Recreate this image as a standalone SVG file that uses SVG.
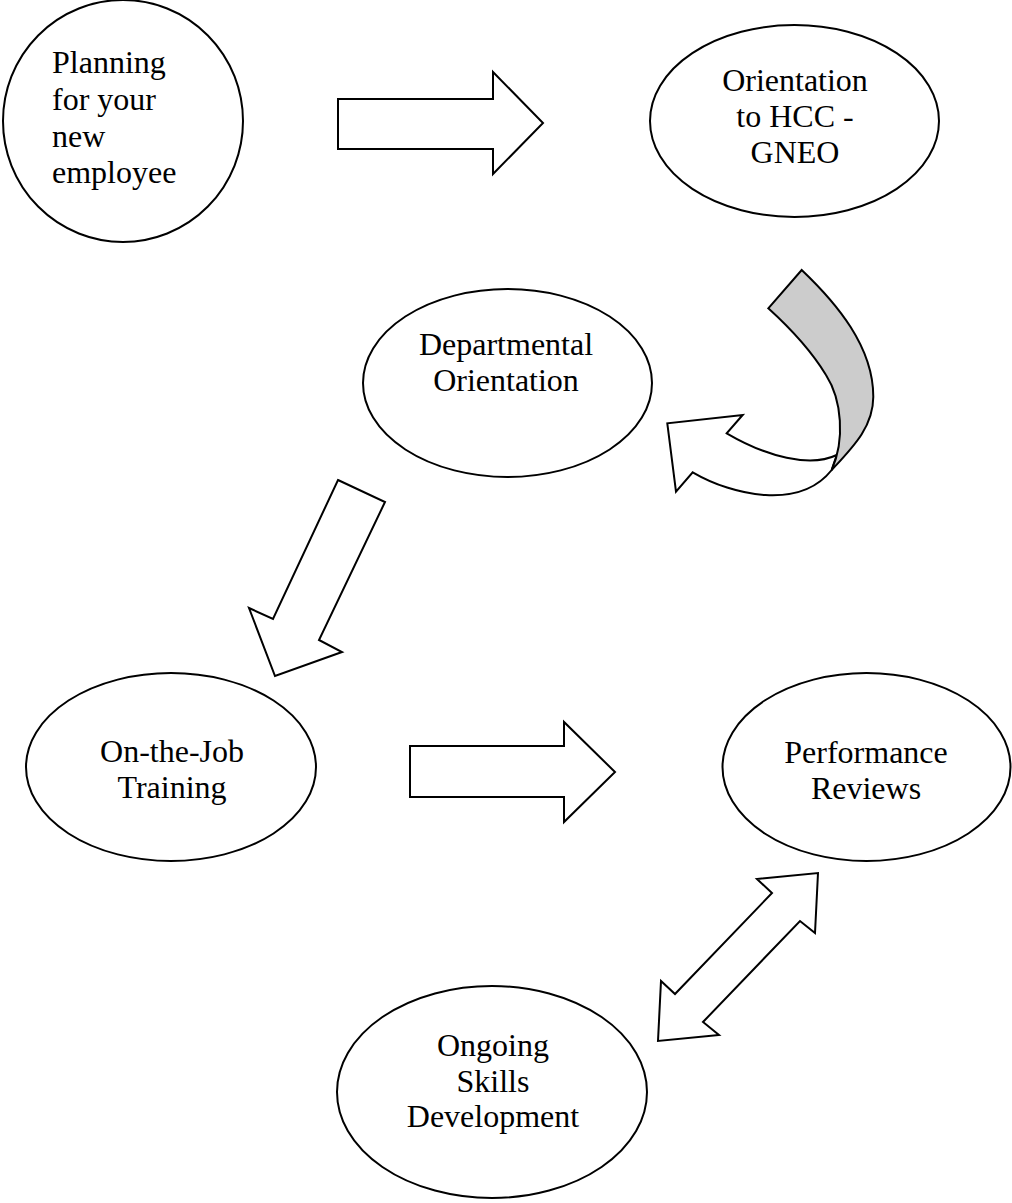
<svg xmlns="http://www.w3.org/2000/svg" width="1012" height="1203" viewBox="0 0 1012 1203">
<style>
.n{fill:#fff;stroke:#000;stroke-width:2}
.a{fill:#fff;stroke:#000;stroke-width:2;stroke-linejoin:miter}
.g{fill:#cccccc;stroke:#000;stroke-width:2}
text{font-family:"Liberation Serif","Times New Roman",serif;font-size:32px;fill:#000}
.c{text-anchor:middle}
</style>
<rect width="1012" height="1203" fill="#fff"/>
<g id="connectors">
<path class="a" d="M338,99 L493,99 L493,72 L543,123 L493,174 L493,149 L338,149 Z"/>
<g id="curved">
<path class="a" d="M836.7,455 C810,468 766.7,456.7 726.7,433.3 L742.7,415 L667.3,423.3 L676,491.7 L692.7,472.3 C733.3,496 800,510 831.7,470 Z"/>
<path class="g" d="M768.3,308.3 L801.7,270 C836.7,303.3 873.3,346.7 873.3,396.7 C873.3,426.7 853.3,446.7 831.7,470 C845,440 842,400 826,375 C812,352 790,328 768.3,308.3 Z"/>
</g>
<path class="a" d="M338,480 L385,502 L319,640 L342,652 L275,676 L249,608 L273,619 Z"/>
<path class="a" d="M410,746 L564,746 L564,722 L615,772 L564,822 L564,797 L410,797 Z"/>
<path class="a" d="M818,873 L815,933 L800,921 L703,1022 L719,1035 L658,1041 L661,981 L675,994 L772,893 L757,879 Z"/>
</g>
<g id="n1">
<ellipse class="n" cx="123" cy="121" rx="120" ry="121"/>
<text x="52" y="73">Planning</text>
<text x="52" y="110">for your</text>
<text x="52" y="147">new</text>
<text x="52" y="183">employee</text>
</g>
<g id="n2">
<ellipse class="n" cx="794.5" cy="121" rx="144.5" ry="96"/>
<text class="c" x="795" y="91">Orientation</text>
<text class="c" x="795" y="127">to HCC -</text>
<text class="c" x="795" y="163">GNEO</text>
</g>
<g id="n3">
<ellipse class="n" cx="507.5" cy="383" rx="144.5" ry="94"/>
<text class="c" x="506" y="355">Departmental</text>
<text class="c" x="506" y="391">Orientation</text>
</g>
<g id="n4">
<ellipse class="n" cx="171" cy="767" rx="145" ry="94"/>
<text class="c" x="172" y="762">On-the-Job</text>
<text class="c" x="172" y="798">Training</text>
</g>
<g id="n5">
<ellipse class="n" cx="866.5" cy="767" rx="144" ry="94"/>
<text class="c" x="866" y="763">Performance</text>
<text class="c" x="866" y="799">Reviews</text>
</g>
<g id="n6">
<ellipse class="n" cx="492" cy="1092" rx="155" ry="106"/>
<text class="c" x="493" y="1056">Ongoing</text>
<text class="c" x="493" y="1092">Skills</text>
<text class="c" x="493" y="1127">Development</text>
</g>
</svg>
